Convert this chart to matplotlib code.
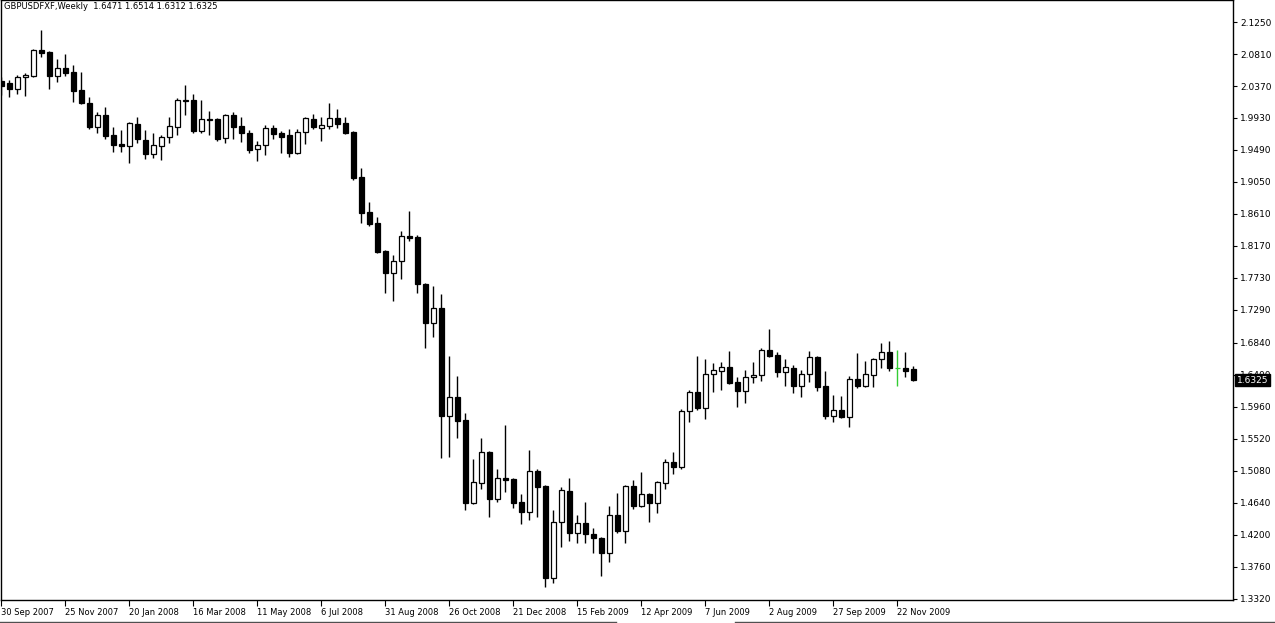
import matplotlib
matplotlib.use("Agg")
import matplotlib.pyplot as plt
import matplotlib.transforms as mtransforms
from matplotlib.lines import Line2D

# weekly GBPUSD candles (first week = 30 Sep 2007)
symbol = "GBPUSDFXF,Weekly"

opens = [
    2.0438, 2.0411, 2.0328, 2.0493, 2.0507, 2.0865, 2.0837, 2.0507, 2.0617, 2.0562,
    2.0315, 2.0136, 1.9806, 1.9971, 1.9696, 1.9572, 1.9544, 1.9847, 1.9627, 1.9434,
    1.9544, 1.9668, 1.9806, 2.0163, 2.0177, 1.9751, 1.9902, 1.9916, 1.9654, 1.9971,
    1.9819, 1.9723, 1.9503, 1.9558, 1.9792, 1.9723, 1.9696, 1.9448, 1.9737, 1.9916,
    1.9792, 1.9819, 1.9930, 1.9861, 1.9737, 1.9118, 1.8637, 1.8485, 1.8100, 1.7797,
    1.7963, 1.8306, 1.8293, 1.7646, 1.7110, 1.7316, 1.5831, 1.6092, 1.5776, 1.4634,
    1.4909, 1.5335, 1.4689, 1.4978, 1.4964, 1.4648, 1.4510, 1.5074, 1.4868, 1.3602,
    1.4372, 1.4799, 1.4221, 1.4359, 1.4207, 1.4152, 1.3946, 1.4469, 1.4249, 1.4868,
    1.4593, 1.4758, 1.4634, 1.4909, 1.5198, 1.5129, 1.5899, 1.6161, 1.5941, 1.6408,
    1.6450, 1.6505, 1.6298, 1.6174, 1.6367, 1.6394, 1.6738, 1.6670, 1.6436, 1.6491,
    1.6243, 1.6408, 1.6642, 1.6243, 1.5831, 1.5913, 1.5817, 1.6339, 1.6243, 1.6394,
    1.6615, 1.6711, 1.6491, 1.6491, 1.6471,
]
highs = [
    2.0493, 2.0452, 2.0521, 2.0548, 2.0879, 2.1140, 2.0851, 2.0741, 2.0810, 2.0659,
    2.0562, 2.0218, 2.0012, 2.0081, 1.9806, 1.9764, 1.9874, 1.9943, 1.9764, 1.9723,
    1.9696, 1.9943, 2.0205, 2.0383, 2.0260, 2.0177, 2.0026, 1.9925, 1.9985, 2.0012,
    1.9943, 1.9764, 1.9613, 1.9833, 1.9833, 1.9751, 1.9778, 1.9778, 1.9940, 1.9985,
    1.9943, 2.0136, 2.0053, 1.9943, 1.9745, 1.9242, 1.8774, 1.8568, 1.8114, 1.8045,
    1.8375, 1.8650, 1.8320, 1.7660, 1.7619, 1.7509, 1.6656, 1.6381, 1.5872, 1.5239,
    1.5528, 1.5345, 1.5102, 1.5707, 1.4978, 1.4758, 1.5363, 1.5102, 1.4881, 1.4538,
    1.4854, 1.4978, 1.4469, 1.4648, 1.4290, 1.4166, 1.4593, 1.4771, 1.4881, 1.4950,
    1.5060, 1.4771, 1.4930, 1.5239, 1.5335, 1.5927, 1.6188, 1.6656, 1.6615, 1.6560,
    1.6573, 1.6725, 1.6367, 1.6463, 1.6573, 1.6766, 1.7027, 1.6711, 1.6615, 1.6532,
    1.6463, 1.6725, 1.6650, 1.6450, 1.6119, 1.6106, 1.6381, 1.6697, 1.6587, 1.6625,
    1.6835, 1.6862, 1.6738, 1.6711, 1.6514,
]
lows = [
    2.0246, 2.0218, 2.0260, 2.0232, 2.0493, 2.0769, 2.0328, 2.0425, 2.0507, 2.0150,
    2.0122, 1.9778, 1.9723, 1.9641, 1.9462, 1.9462, 1.9311, 1.9586, 1.9366, 1.9379,
    1.9352, 1.9586, 1.9696, 1.9971, 1.9723, 1.9723, 1.9696, 1.9613, 1.9586, 1.9641,
    1.9599, 1.9448, 1.9338, 1.9421, 1.9641, 1.9448, 1.9393, 1.9440, 1.9572, 1.9778,
    1.9613, 1.9778, 1.9792, 1.9709, 1.9077, 1.8485, 1.8444, 1.8073, 1.7522, 1.7412,
    1.7715, 1.8238, 1.7522, 1.6766, 1.6917, 1.5253, 1.5267, 1.5528, 1.4538, 1.4625,
    1.4826, 1.4441, 1.4648, 1.4785, 1.4565, 1.4345, 1.4400, 1.4441, 1.3478, 1.3533,
    1.4029, 1.4111, 1.4084, 1.4084, 1.3946, 1.3630, 1.3822, 1.4221, 1.4084, 1.4551,
    1.4579, 1.4372, 1.4496, 1.4826, 1.5033, 1.5102, 1.5748, 1.5913, 1.5789, 1.6161,
    1.6188, 1.6271, 1.5954, 1.6009, 1.6284, 1.6312, 1.6642, 1.6367, 1.6243, 1.6147,
    1.6092, 1.6298, 1.6174, 1.5789, 1.5748, 1.5810, 1.5679, 1.6216, 1.6229, 1.6229,
    1.6491, 1.6450, 1.6243, 1.6367, 1.6312,
]
closes = [
    2.0370, 2.0328, 2.0493, 2.0521, 2.0865, 2.0824, 2.0507, 2.0617, 2.0548, 2.0301,
    2.0136, 1.9806, 1.9971, 1.9682, 1.9558, 1.9544, 1.9861, 1.9641, 1.9434, 1.9558,
    1.9668, 1.9819, 2.0177, 2.0177, 1.9751, 1.9916, 1.9916, 1.9641, 1.9971, 1.9806,
    1.9723, 1.9489, 1.9558, 1.9792, 1.9709, 1.9668, 1.9448, 1.9737, 1.9930, 1.9806,
    1.9833, 1.9930, 1.9847, 1.9723, 1.9104, 1.8623, 1.8471, 1.8086, 1.7797, 1.7963,
    1.8306, 1.8279, 1.7646, 1.7110, 1.7316, 1.5831, 1.6092, 1.5762, 1.4634, 1.4923,
    1.5335, 1.4689, 1.4978, 1.4950, 1.4634, 1.4510, 1.5074, 1.4854, 1.3602, 1.4372,
    1.4813, 1.4221, 1.4359, 1.4207, 1.4152, 1.3946, 1.4469, 1.4249, 1.4868, 1.4593,
    1.4758, 1.4634, 1.4923, 1.5198, 1.5129, 1.5899, 1.6161, 1.5941, 1.6408, 1.6463,
    1.6505, 1.6284, 1.6174, 1.6367, 1.6394, 1.6738, 1.6656, 1.6436, 1.6505, 1.6243,
    1.6408, 1.6642, 1.6229, 1.5831, 1.5913, 1.5817, 1.6339, 1.6243, 1.6408, 1.6615,
    1.6711, 1.6491, 1.6491, 1.6450, 1.6325,
]

date_labels = [
    "30 Sep 2007", "25 Nov 2007", "20 Jan 2008", "16 Mar 2008", "11 May 2008",
    "6 Jul 2008", "31 Aug 2008", "26 Oct 2008", "21 Dec 2008", "15 Feb 2009",
    "12 Apr 2009", "7 Jun 2009", "2 Aug 2009", "27 Sep 2009", "22 Nov 2009",
]
weeks_per_label = 8

price_ticks = [
    2.1250, 2.0810, 2.0370, 1.9930, 1.9490, 1.9050, 1.8610, 1.8170, 1.7730, 1.7290,
    1.6840, 1.6400, 1.5960, 1.5520, 1.5080, 1.4640, 1.4200, 1.3760, 1.3320,
]

UP_FILL = "white"
DOWN_FILL = "black"
DOJI_COLOR = "#33cc33"
FONT = "DejaVu Sans"
FS_PRICE = 6.5
FS_TEXT = 6.0


def plot_candles(output_plot="out.png"):
    W, H = 1275, 623
    fig = plt.figure(figsize=(W / 100, H / 100), dpi=100)
    fig.patch.set_facecolor("white")
    # plot frame: x 0..1233 px, y 0..600 px
    ax = fig.add_axes([0.5 / W, 23 / H, 1232.5 / W, 600 / H])

    n = len(opens)
    xs = list(range(n))

    edges, fills = [], []
    for o, c in zip(opens, closes):
        if c > o:
            fills.append(UP_FILL)
            edges.append("black")
        elif c < o:
            fills.append(DOWN_FILL)
            edges.append("black")
        else:
            fills.append(DOJI_COLOR)
            edges.append(DOJI_COLOR)

    ax.vlines(xs, lows, highs, colors=edges, linewidth=1.0, zorder=2)
    bottoms = [min(o, c) for o, c in zip(opens, closes)]
    heights = [abs(c - o) for o, c in zip(opens, closes)]
    ax.bar(xs, heights, bottom=bottoms, width=0.6, color=fills,
           edgecolor=edges, linewidth=0.9, zorder=3)

    ax.set_xlim(-0.125, 154.0)
    ax.set_ylim(1.3300, 2.1553)

    # price scale on the right
    ax.yaxis.tick_right()
    ax.set_yticks(price_ticks)
    ax.set_yticklabels([f"{t:.4f}" for t in price_ticks], fontsize=FS_PRICE,
                       family=FONT)
    ax.tick_params(axis="y", length=3, width=0.8, pad=2, direction="out")

    # date scale along the bottom
    tick_pos = list(range(0, n, weeks_per_label))[:len(date_labels)]
    ax.set_xticks(tick_pos)
    ax.set_xticklabels(date_labels, fontsize=FS_TEXT, family=FONT)
    for lab in ax.get_xticklabels():
        lab.set_horizontalalignment("left")
    ax.tick_params(axis="x", length=4, width=0.8, pad=1.5, direction="out")

    for sp in ax.spines.values():
        sp.set_linewidth(1.0)

    # header line with last bar's OHLC
    ax.text(4 / 1232.5, 1 - 2 / 600,
            f"{symbol}  {opens[-1]:.4f} {highs[-1]:.4f} {lows[-1]:.4f} {closes[-1]:.4f}",
            transform=ax.transAxes, ha="left", va="top", fontsize=FS_TEXT,
            family=FONT, color="black")

    # current price marker on the scale (covers part of the 1.6400 label,
    # as in the terminal)
    trans = mtransforms.blended_transform_factory(ax.transAxes, ax.transData)
    ax.text(1 + 4 / 1232.5, closes[-1], f"{closes[-1]:.4f}", transform=trans,
            ha="left", va="center", fontsize=FS_PRICE, family=FONT,
            color="white", clip_on=False, zorder=10,
            bbox=dict(boxstyle="square,pad=0.2", fc="black", ec="black"))

    # window border under the date scale
    yb = 1.5 / H
    fig.add_artist(Line2D([0, 616 / W], [yb, yb], color="#505050", lw=1.0))
    fig.add_artist(Line2D([735 / W, 1], [yb, yb], color="#505050", lw=1.0))

    fig.savefig(output_plot, dpi=100)


if __name__ == "__main__":
    plot_candles("out.png")
